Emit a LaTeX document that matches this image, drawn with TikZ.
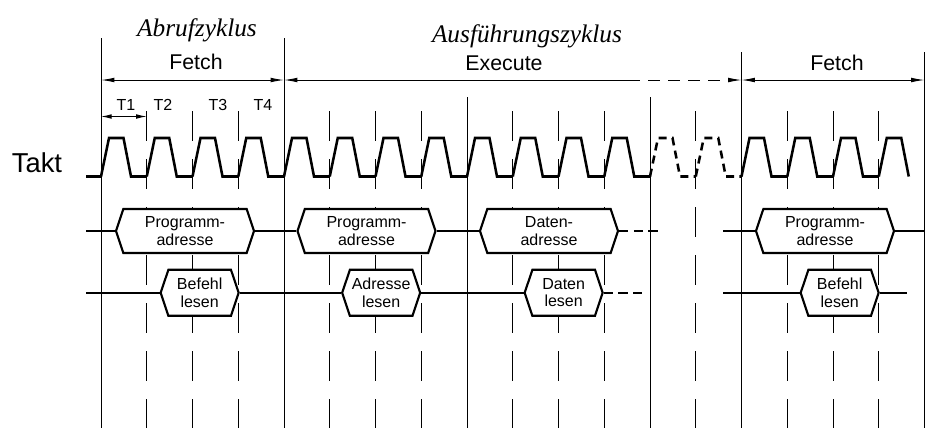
\documentclass[tikz,border=0pt]{standalone}
\usepackage{fontspec}
\setmainfont{Liberation Sans}
\newfontfamily\handfont{Liberation Serif}
\usetikzlibrary{positioning,shapes.symbols,arrows.meta}

\begin{document}
\begin{tikzpicture}[x=0.75pt,y=-0.75pt]
        \tikzstyle{every node}=[inner sep=0pt]
        \tikzstyle{grid}=[line width=0.7pt]
        \tikzstyle{gridd}=[line width=0.7pt, dash pattern=on 22.5pt off 13.5pt]
        \tikzstyle{clk}=[line width=1.9pt]
        \tikzstyle{bus}=[line width=1.6pt]
        \tikzstyle{hexa}=[draw, fill=white, line width=1.6pt, signal, signal to=west and east,
            signal pointer angle=143, align=center, font=\fontsize{12}{13}\selectfont]
        \tikzstyle{addr}=[hexa, minimum width=103.5pt, minimum height=33pt]
        \tikzstyle{rd}=[hexa, minimum width=58.5pt, minimum height=34.5pt]
        \tikzstyle{dim}=[line width=0.7pt, {Latex[length=10pt,width=3.5pt]}-{Latex[length=10pt,width=3.5pt]}]
        \tikzstyle{lbl}=[font=\fontsize{16}{18}\selectfont]
        \tikzstyle{tlbl}=[font=\fontsize{12}{14}\selectfont]
        \tikzstyle{hand}=[font=\handfont\itshape\fontsize{19}{21}\selectfont]

        \useasboundingbox (0,0) rectangle (927,430);

        \foreach \k/\t in {0/38,4/38,8/97,12/97,14/52,18/52}
            \draw[grid] (101+\k*45.75,\t) -- (101+\k*45.75,428);
        \foreach \k in {1,2,3,5,6,7,9,10,11,13,15,16,17}
            \draw[gridd] (101+\k*45.75,111) -- (101+\k*45.75,428);

        \node[hand] (abruf) at (197,30) {Abrufzyklus};
        \node[hand] (ausf) at (527,36) {Ausführungszyklus};

        \coordinate (f0) at (101,80);
        \coordinate (f1) at (284,80);
        \coordinate (e1) at (628,80);
        \coordinate (f2) at (741.5,80);
        \coordinate (f3) at (924.5,80);
        \draw[dim] (f0) -- (f1);
        \draw[line width=0.7pt, {Latex[length=10pt,width=3.5pt]}-] (f1) -- (e1);
        \draw[line width=0.7pt, -{Latex[length=10pt,width=3.5pt]}, dash pattern=on 9pt off 6pt] (e1) -- (f2);
        \draw[dim] (f2) -- (f3);
        \node[lbl] (fetch1) at (196,62) {Fetch};
        \node[lbl] (exec) at (504,63) {Execute};
        \node[lbl] (fetch2) at (837,63) {Fetch};

        \node[tlbl] (t1) at (126,105) {T1};
        \node[tlbl] (t2) at (163,105) {T2};
        \node[tlbl] (t3) at (218,105) {T3};
        \node[tlbl] (t4) at (263,105) {T4};
        \coordinate (p0) at (101,116.5);
        \coordinate (p1) at (146.75,116.5);
        \draw[line width=0.7pt, {Latex[length=8pt,width=3.5pt]}-{Latex[length=8pt,width=3.5pt]}] (p0) -- (p1);

        \node[font=\fontsize{20.5}{22}\selectfont] (takt) at (37,163) {Takt};
        \draw[clk] (86,176.5) -- (101,176.5);
        \foreach \k in {0,...,11,14,15,16}
            \draw[clk] (101+\k*45.75,176.5) -- ++(8,-38.5) -- ++(14.5,0) -- ++(7.5,38.5) -- ++(15.75,0);
        \foreach \k in {12,13}
            \draw[clk, dash pattern=on 6pt off 4pt] (101+\k*45.75,176.5) -- ++(8,-38.5) -- ++(14.5,0) -- ++(7.5,38.5) -- ++(15.75,0);
        \draw[clk] (101+17*45.75,176.5) -- ++(8,-38.5) -- ++(14.5,0) -- ++(7.5,38.5);

        \node[addr] (pa1) at (185,231) {Programm-\\adresse};
        \node[addr] (pa2) at (366.5,231) {Programm-\\adresse};
        \node[addr] (da) at (549,231) {Daten-\\adresse};
        \node[addr] (pa3) at (825,231) {Programm-\\adresse};
        \node[rd] (bl1) [below=11pt of pa1, xshift=11pt] {Befehl\\lesen};
        \node[rd] (al) [below=11pt of pa2, xshift=11pt] {Adresse\\lesen};
        \node[rd] (dl) [below=11pt of da, xshift=11pt] {Daten\\lesen};
        \node[rd] (bl2) [below=11pt of pa3, xshift=11pt] {Befehl\\lesen};

        \coordinate (a0) at (86,231);
        \coordinate (a1) at (663,231);
        \coordinate (a2) at (723,231);
        \coordinate (a3) at (924.5,231);
        \draw[bus] (a0) -- (pa1.west);
        \draw[bus] (pa1.east) -- (pa2.west);
        \draw[bus] (pa2.east) -- (da.west);
        \draw[bus, dash pattern=on 7pt off 4pt] (da.east) -- (a1);
        \draw[bus] (a2) -- (pa3.west);
        \draw[bus] (pa3.east) -- (a3);

        \coordinate (r0) at (a0 |- bl1.west);
        \coordinate (r1) at (643,0 |- dl.east);
        \coordinate (r2) at (a2 |- bl2.west);
        \coordinate (r3) at (907,0 |- bl2.east);
        \draw[bus] (r0) -- (bl1.west);
        \draw[bus] (bl1.east) -- (al.west);
        \draw[bus] (al.east) -- (dl.west);
        \draw[bus, dash pattern=on 7pt off 4pt] (dl.east) -- (r1);
        \draw[bus] (r2) -- (bl2.west);
        \draw[bus] (bl2.east) -- (r3);
    \end{tikzpicture}
\end{document}
